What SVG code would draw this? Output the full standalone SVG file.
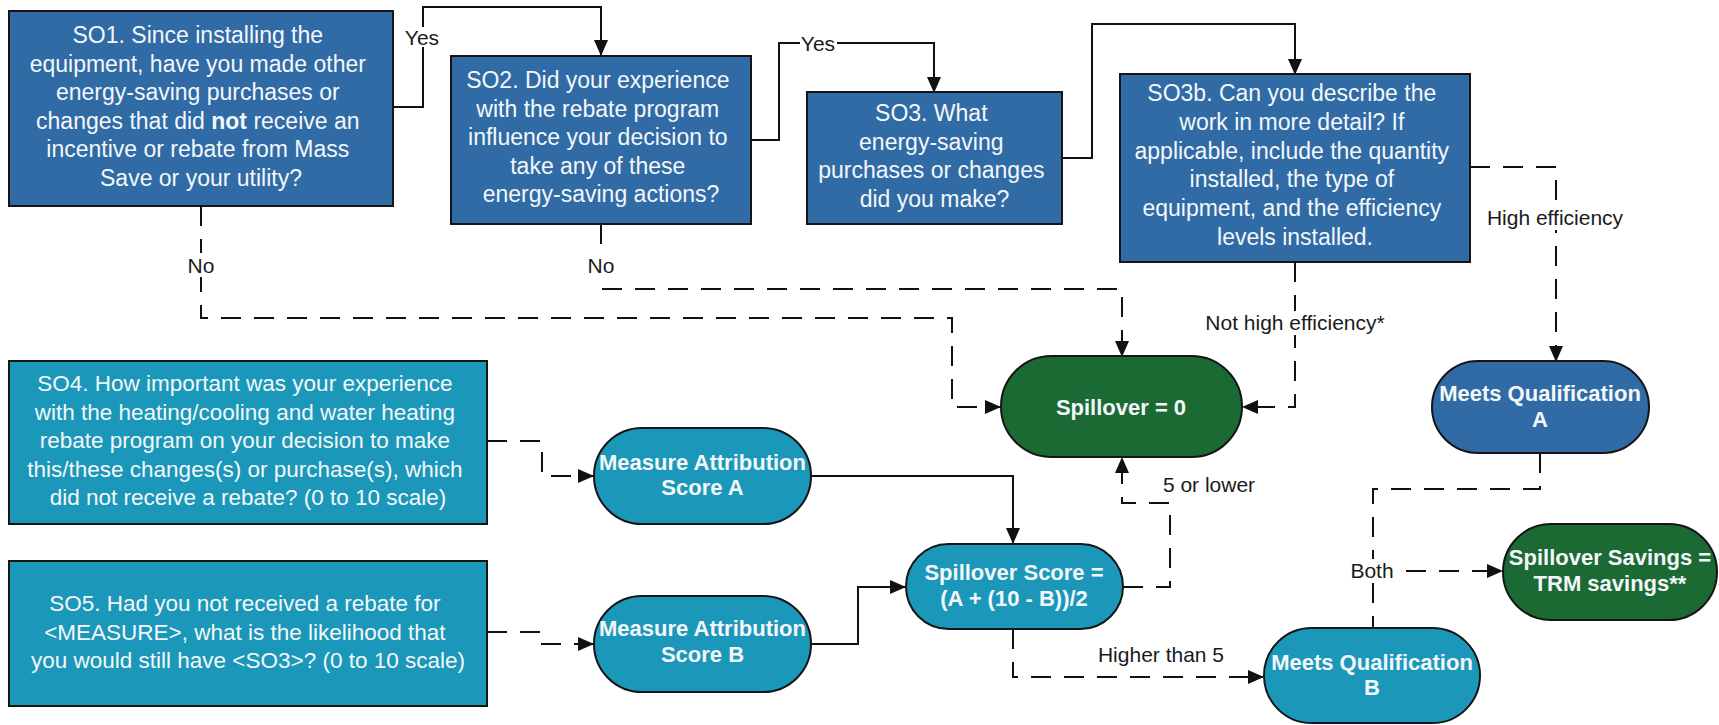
<svg xmlns="http://www.w3.org/2000/svg" width="1719" height="725" viewBox="0 0 1719 725">
  <defs>
    <marker id="arrow" markerUnits="userSpaceOnUse" markerWidth="16" markerHeight="14" refX="15" refY="7" orient="auto">
      <path d="M0,0 L16,7 L0,14 Z" fill="#111"/>
    </marker>
    <style>
      .q { stroke: #151515; stroke-width: 2; }
      .blue { fill: #306ba6; }
      .teal { fill: #1b97b9; }
      .green { fill: #1c6a33; }
      .qt { font-family: "Liberation Sans", Arial, sans-serif; font-size: 23px; fill: #f4f7fa; text-anchor: middle; }
      .qt2 { font-family: "Liberation Sans", Arial, sans-serif; font-size: 22.5px; fill: #f4f7fa; text-anchor: middle; }
      .pt { font-family: "Liberation Sans", Arial, sans-serif; font-size: 22px; font-weight: bold; fill: #f4f7fa; text-anchor: middle; }
      .solid { fill: none; stroke: #111; stroke-width: 2; }
      .dash { fill: none; stroke: #111; stroke-width: 2; stroke-dasharray: 20 13; }
      .lbl { font-family: "Liberation Sans", Arial, sans-serif; font-size: 21px; fill: #1a1a1a; text-anchor: middle; }
      .lblbg { fill: #ffffff; }
    </style>
  </defs>
  <rect width="1719" height="725" fill="#ffffff"/>

  <!-- connectors -->
  <g id="connectors">
    <path class="solid" d="M393,107 H423 V7 H601 V55" marker-end="url(#arrow)"/>
    <path class="solid" d="M751,140 H779 V43 H934 V92" marker-end="url(#arrow)"/>
    <path class="solid" d="M1062,158 H1092 V24 H1295 V74" marker-end="url(#arrow)"/>
    <path class="dash" d="M201,206 V318 H952 V407 H1000" marker-end="url(#arrow)"/>
    <path class="dash" d="M601,224 V289 H1122 V356" marker-end="url(#arrow)"/>
    <path class="dash" d="M1295,262 V407 H1243" marker-end="url(#arrow)"/>
    <path class="dash" d="M1470,167 H1556 V361" marker-end="url(#arrow)"/>
    <path class="dash" d="M487,441 H542 V476 H593" marker-end="url(#arrow)"/>
    <path class="dash" d="M487,632 H542 V644 H593" marker-end="url(#arrow)"/>
    <path class="solid" d="M811,476 H1013 V543" marker-end="url(#arrow)"/>
    <path class="solid" d="M811,644 H858 V587 H905" marker-end="url(#arrow)"/>
    <path class="dash" d="M1123,587 H1170 V503 H1122 V458" marker-end="url(#arrow)"/>
    <path class="dash" d="M1013,629 V677 H1263" marker-end="url(#arrow)"/>
    <path class="dash" d="M1540,453 V489 H1373 V628"/>
    <path class="dash" d="M1373,571 H1502" marker-end="url(#arrow)"/>

    <!-- connector labels -->
    <rect class="lblbg" x="405" y="27" width="36" height="20"/>
    <text class="lbl" x="422" y="44.5">Yes</text>
    <rect class="lblbg" x="800" y="33" width="37" height="20"/>
    <text class="lbl" x="818" y="50.5">Yes</text>
    <rect class="lblbg" x="187" y="253" width="28" height="24"/>
    <text class="lbl" x="201" y="272.5">No</text>
    <rect class="lblbg" x="587" y="253" width="28" height="24"/>
    <text class="lbl" x="601" y="272.5">No</text>
    <rect class="lblbg" x="1486" y="206" width="138" height="24"/>
    <text class="lbl" x="1555" y="225">High efficiency</text>
    <rect class="lblbg" x="1201" y="311" width="188" height="24"/>
    <text class="lbl" x="1295" y="330">Not high efficiency*</text>
    <text class="lbl" x="1209" y="492">5 or lower</text>
    <text class="lbl" x="1161" y="662">Higher than 5</text>
    <rect class="lblbg" x="1350" y="559" width="46" height="24"/>
    <text class="lbl" x="1372" y="578">Both</text>
  </g>

  <!-- question boxes -->
  <g id="so1">
    <rect class="blue q" x="9" y="11" width="384" height="195"/>
    <text class="qt">
      <tspan x="201" y="43">SO1. Since installing the</tspan>
      <tspan x="201" y="71.6">equipment, have you made other</tspan>
      <tspan x="201" y="100.2">energy-saving purchases or</tspan>
      <tspan x="201" y="128.8">changes that did <tspan font-weight="bold">not</tspan> receive an</tspan>
      <tspan x="201" y="157.4">incentive or rebate from Mass</tspan>
      <tspan x="201" y="186">Save or your utility?</tspan>
    </text>
  </g>
  <g id="so2">
    <rect class="blue q" x="451" y="56" width="300" height="168"/>
    <text class="qt">
      <tspan x="601" y="88">SO2. Did your experience</tspan>
      <tspan x="601" y="116.6">with the rebate program</tspan>
      <tspan x="601" y="145.2">influence your decision to</tspan>
      <tspan x="601" y="173.8">take any of these</tspan>
      <tspan x="601" y="202.4">energy-saving actions?</tspan>
    </text>
  </g>
  <g id="so3">
    <rect class="blue q" x="807" y="92" width="255" height="132"/>
    <text class="qt">
      <tspan x="934.5" y="121">SO3. What</tspan>
      <tspan x="934.5" y="149.6">energy-saving</tspan>
      <tspan x="934.5" y="178.2">purchases or changes</tspan>
      <tspan x="934.5" y="206.8">did you make?</tspan>
    </text>
  </g>
  <g id="so3b">
    <rect class="blue q" x="1120" y="74" width="350" height="188"/>
    <text class="qt">
      <tspan x="1295" y="101">SO3b. Can you describe the</tspan>
      <tspan x="1295" y="129.8">work in more detail? If</tspan>
      <tspan x="1295" y="158.6">applicable, include the quantity</tspan>
      <tspan x="1295" y="187.4">installed, the type of</tspan>
      <tspan x="1295" y="216.2">equipment, and the efficiency</tspan>
      <tspan x="1295" y="245">levels installed.</tspan>
    </text>
  </g>
  <g id="so4">
    <rect class="teal q" x="9" y="361" width="478" height="163"/>
    <text class="qt2">
      <tspan x="248" y="391">SO4. How important was your experience</tspan>
      <tspan x="248" y="419.5">with the heating/cooling and water heating</tspan>
      <tspan x="248" y="448">rebate program on your decision to make</tspan>
      <tspan x="248" y="476.5">this/these changes(s) or purchase(s), which</tspan>
      <tspan x="248" y="505">did not receive a rebate? (0 to 10 scale)</tspan>
    </text>
  </g>
  <g id="so5">
    <rect class="teal q" x="9" y="561" width="478" height="145"/>
    <text class="qt2">
      <tspan x="248" y="611">SO5. Had you not received a rebate for</tspan>
      <tspan x="248" y="639.5">&lt;MEASURE&gt;, what is the likelihood that</tspan>
      <tspan x="248" y="668">you would still have &lt;SO3&gt;? (0 to 10 scale)</tspan>
    </text>
  </g>

  <!-- outcome / score terminators -->
  <g id="attribution-a">
    <rect class="teal q" x="594" y="428" width="217" height="96" rx="48" ry="48"/>
    <text class="pt"><tspan x="702.5" y="469.5">Measure Attribution</tspan><tspan x="702.5" y="494.5">Score A</tspan></text>
  </g>
  <g id="attribution-b">
    <rect class="teal q" x="594" y="596" width="217" height="96" rx="48" ry="48"/>
    <text class="pt"><tspan x="702.5" y="635.5">Measure Attribution</tspan><tspan x="702.5" y="661.5">Score B</tspan></text>
  </g>
  <g id="spillover-score">
    <rect class="teal q" x="906" y="544" width="217" height="85" rx="42.5" ry="42.5"/>
    <text class="pt"><tspan x="1014" y="579.5">Spillover Score =</tspan><tspan x="1014" y="605.5">(A + (10 - B))/2</tspan></text>
  </g>
  <g id="spillover-zero">
    <rect class="green q" x="1001" y="356" width="241" height="101" rx="50.5" ry="50.5"/>
    <text class="pt" x="1121" y="414.5">Spillover = 0</text>
  </g>
  <g id="qualification-a">
    <rect class="blue q" x="1432" y="361" width="217" height="92" rx="46" ry="46"/>
    <text class="pt"><tspan x="1540" y="400.5">Meets Qualification</tspan><tspan x="1540" y="426.5">A</tspan></text>
  </g>
  <g id="qualification-b">
    <rect class="teal q" x="1264" y="628" width="216" height="95" rx="47.5" ry="47.5"/>
    <text class="pt"><tspan x="1372" y="669.5">Meets Qualification</tspan><tspan x="1372" y="694.5">B</tspan></text>
  </g>
  <g id="spillover-savings">
    <rect class="green q" x="1503" y="524" width="214" height="96" rx="48" ry="48"/>
    <text class="pt"><tspan x="1610" y="564.5">Spillover Savings =</tspan><tspan x="1610" y="590.5">TRM savings**</tspan></text>
  </g>
</svg>
